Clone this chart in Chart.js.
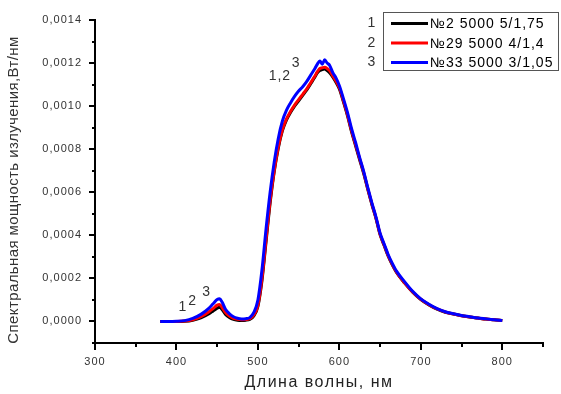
<!DOCTYPE html>
<html>
<head>
<meta charset="utf-8">
<script src="https://cdn.jsdelivr.net/npm/chart.js@4/dist/chart.umd.min.js"></script>
<style>
  html, body { margin: 0; padding: 0; background: #fff; }
</style>
</head>
<body>
<canvas id="spectrum" width="561" height="394"></canvas>
<script>
// wavelengths, nm
const wavelengths = [380, 390, 400, 410, 420, 430, 440, 445, 450, 453, 456, 460, 465, 470, 475, 480, 485, 490, 495, 500,
  505, 510, 515, 520, 525, 530, 535, 540, 545, 550, 555, 560, 565, 570, 573, 576, 579, 582, 585, 588,
  592, 596, 600, 605, 610, 615, 620, 625, 630, 635, 640, 645, 650, 655, 660, 665, 670, 680, 690, 700,
  710, 720, 730, 740, 750, 760, 770, 780, 790, 800];

// spectral power, W/nm
const sample1 = [0, 0, 0, 0.000001, 0.000006, 0.000017, 0.000036, 0.000049, 0.000062, 0.000066, 0.000055, 0.000034, 0.000019, 0.00001, 0.000006, 0.000005, 0.000006, 0.00001, 0.000026, 0.00007,
  0.00019, 0.00037, 0.00055, 0.000695, 0.000805, 0.000885, 0.000935, 0.00097, 0.001, 0.001025, 0.00105, 0.001075, 0.001105, 0.001135, 0.001155, 0.001165, 0.00117, 0.001172, 0.001165, 0.001155,
  0.001135, 0.00111, 0.00108, 0.00102, 0.000955, 0.00088, 0.000815, 0.00075, 0.000685, 0.000612, 0.000542, 0.000478, 0.000403, 0.000353, 0.000303, 0.000263, 0.000229, 0.000179, 0.000136, 0.000102,
  0.000077, 0.000057, 0.000043, 0.000035, 0.000027, 0.000021, 0.000016, 0.000011, 0.000008, 0.000004];

const sample2 = [0, 0, 0, 0.000002, 0.000008, 0.000022, 0.000045, 0.00006, 0.000076, 0.000079, 0.000066, 0.000042, 0.000025, 0.000015, 0.00001, 0.000008, 0.000009, 0.000013, 0.00003, 0.000075,
  0.0002, 0.00038, 0.00056, 0.0007, 0.00081, 0.00089, 0.00094, 0.000975, 0.001005, 0.00103, 0.001055, 0.00108, 0.00111, 0.00114, 0.00116, 0.001175, 0.001178, 0.00118, 0.001175, 0.001165,
  0.00114, 0.001115, 0.001085, 0.001025, 0.00096, 0.000885, 0.00082, 0.000755, 0.00069, 0.000615, 0.000545, 0.00048, 0.000405, 0.000355, 0.000305, 0.000265, 0.00023, 0.00018, 0.000137, 0.000103,
  0.000078, 0.000058, 0.000044, 0.000035, 0.000027, 0.000021, 0.000016, 0.000011, 0.000008, 0.000004];

const sample3 = [0, 0, 0.000001, 0.000004, 0.000014, 0.000033, 0.000062, 0.000082, 0.000102, 0.000105, 0.00009, 0.000058, 0.000036, 0.000022, 0.000015, 0.000012, 0.000013, 0.000018, 0.000042, 0.0001,
  0.00024, 0.00043, 0.0006, 0.00074, 0.00085, 0.00093, 0.00098, 0.001015, 0.001045, 0.00107, 0.00109, 0.001115, 0.001145, 0.001175, 0.001195, 0.00121, 0.001195, 0.001215, 0.0012, 0.00119,
  0.001155, 0.00113, 0.001095, 0.001035, 0.00097, 0.000895, 0.00083, 0.00076, 0.000695, 0.00062, 0.00055, 0.000485, 0.00041, 0.00036, 0.00031, 0.00027, 0.000235, 0.000185, 0.00014, 0.000105,
  0.00008, 0.00006, 0.000045, 0.000036, 0.000028, 0.000022, 0.000016, 0.000012, 0.000008, 0.000004];

const seriesNames = ['№2 5000 5/1,75', '№29 5000 4/1,4', '№33 5000 3/1,05'];
const seriesColors = ['#000000', '#ff0000', '#0000ff'];

// tick labels
const xTickLabels = [300, 400, 500, 600, 700, 800];
const yTickLabels = ['0,0000', '0,0002', '0,0004', '0,0006', '0,0008', '0,0010', '0,0012', '0,0014'];

function toPoints(values) {
  return wavelengths.map((w, i) => ({ x: w, y: values[i] }));
}

const tickFont = { family: 'Liberation Sans, Arial, sans-serif', size: 11 };

// Draws ticks, titles, curve numbers and the boxed legend
const decorPlugin = {
  id: 'decor',
  beforeDraw(chart) {
    chart.ctx.letterSpacing = '1px';
  },
  afterDraw(chart) {
    const ctx = chart.ctx;
    const xs = chart.scales.x;
    const ys = chart.scales.y;
    const area = chart.chartArea;
    ctx.save();
    ctx.strokeStyle = '#000';
    ctx.lineWidth = 2;

    // x ticks (outside, below)
    for (let v = 300; v <= 850; v += 50) {
      const px = Math.round(xs.getPixelForValue(v));
      const len = v % 100 === 0 ? 7 : 4;
      ctx.beginPath();
      ctx.moveTo(px, area.bottom);
      ctx.lineTo(px, area.bottom + len);
      ctx.stroke();
    }
    // y ticks (outside, left)
    for (let k = -1; k <= 14; k++) {
      const py = Math.round(ys.getPixelForValue(k / 10000));
      const len = (k >= 0 && k % 2 === 0) ? 6 : 3;
      ctx.beginPath();
      ctx.moveTo(area.left, py);
      ctx.lineTo(area.left - len, py);
      ctx.stroke();
    }

    // axis titles
    ctx.fillStyle = '#222';
    ctx.textBaseline = 'middle';
    ctx.textAlign = 'center';
    ctx.letterSpacing = '1.5px';
    ctx.font = '16px "Liberation Sans", Arial, sans-serif';
    ctx.fillText('Длина волны, нм', (area.left + area.right) / 2, 383);

    ctx.letterSpacing = '0.4px';
    ctx.save();
    ctx.translate(14, 190);
    ctx.rotate(-Math.PI / 2);
    ctx.font = '15px "Liberation Sans", Arial, sans-serif';
    ctx.fillStyle = '#333';
    ctx.fillText('Спектральная мощность излучения,Вт/нм', 0, 0);
    ctx.restore();

    // curve numbers
    ctx.font = '14px "Liberation Sans", Arial, sans-serif';
    ctx.fillStyle = '#333';
    ctx.letterSpacing = '1px';
    const marks = [
      ['1', 408, 0.000065], ['2', 420, 0.000094], ['3', 437, 0.000135],
      ['1,2', 527, 0.00114], ['3', 547, 0.0012]
    ];
    marks.forEach(([t, x, y]) => {
      ctx.fillText(t, xs.getPixelForValue(x), ys.getPixelForValue(y));
    });

    // legend box
    ctx.fillStyle = '#fff';
    ctx.fillRect(383.5, 12.5, 175, 58);
    ctx.strokeStyle = '#555';
    ctx.lineWidth = 1;
    ctx.strokeRect(383.5, 12.5, 175, 58);
    chart.data.datasets.forEach((ds, i) => {
      const ry = 23.5 + i * 19.5;
      ctx.strokeStyle = ds.borderColor;
      ctx.lineWidth = 3;
      ctx.beginPath();
      ctx.moveTo(391, ry);
      ctx.lineTo(428, ry);
      ctx.stroke();
      ctx.fillStyle = '#000';
      ctx.textAlign = 'left';
      ctx.fillText(ds.label, 430, ry + 1);
      ctx.fillStyle = '#333';
      ctx.textAlign = 'center';
      ctx.fillText(String(i + 1), 372, ry);
    });
    ctx.restore();
    ctx.letterSpacing = '0px';
  }
};

const datasets = [sample1, sample2, sample3].map((vals, i) => ({
  label: seriesNames[i],
  data: toPoints(vals),
  borderColor: seriesColors[i],
  backgroundColor: seriesColors[i],
  borderWidth: 3,
  pointRadius: 0,
  cubicInterpolationMode: 'monotone',
  order: 3 - i
}));

new Chart(document.getElementById('spectrum'), {
  type: 'line',
  data: { datasets: datasets },
  options: {
    responsive: false,
    animation: false,
    layout: { padding: { top: 20, right: 18, left: 0, bottom: 0 } },
    plugins: {
      legend: { display: false },
      tooltip: { enabled: false }
    },
    scales: {
      x: {
        type: 'linear',
        min: 300,
        max: 850,
        grid: { display: false, drawTicks: false },
        border: { display: true, color: '#000', width: 2 },
        ticks: {
          stepSize: 50,
          padding: 12,
          color: '#333',
          font: tickFont,
          maxRotation: 0,
          autoSkip: false,
          callback: v => xTickLabels.includes(v) ? String(v) : ''
        },
        afterFit: s => { s.height = 51; }
      },
      y: {
        min: -0.0001,
        max: 0.0014,
        grid: { display: false, drawTicks: false },
        border: { display: true, color: '#000', width: 2 },
        ticks: {
          stepSize: 0.0001,
          padding: 13,
          color: '#333',
          font: tickFont,
          autoSkip: false,
          callback: v => {
            const k = Math.round(v * 10000);
            return (k >= 0 && k % 2 === 0) ? yTickLabels[k / 2] : '';
          }
        },
        afterFit: s => { s.width = 95; }
      }
    }
  },
  plugins: [decorPlugin]
});
</script>
</body>
</html>
